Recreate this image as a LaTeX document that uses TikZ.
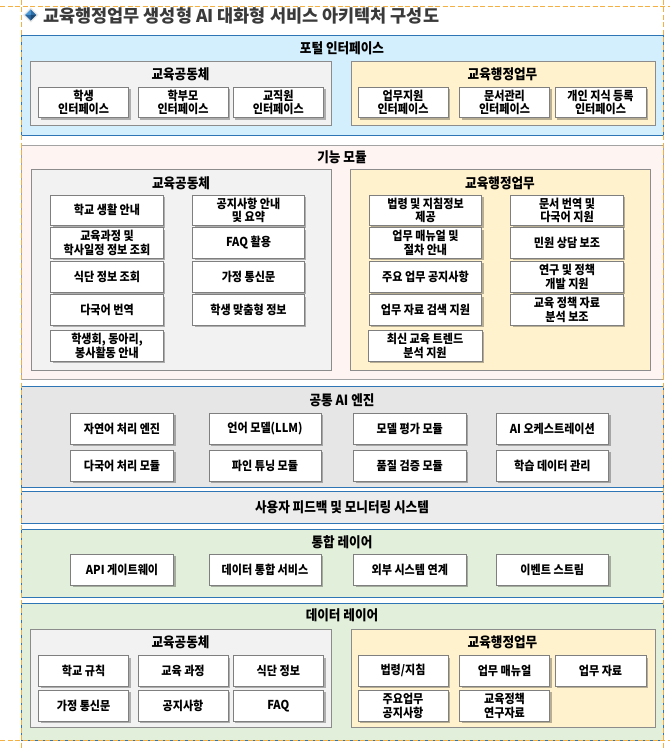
\documentclass[tikz,border=0pt]{standalone}
\usepackage{fontspec}
\newfontfamily\kr{Noto Sans CJK KR}[FakeStretch=0.9]
\newfontfamily\krwide{Noto Sans CJK KR}
\usetikzlibrary{shadows}
\definecolor{dashorange}{HTML}{F5B042}
\definecolor{lineblue}{HTML}{2E75B6}
\definecolor{portalfill}{HTML}{D3EEFC}
\definecolor{modfill}{HTML}{FEF4F2}
\definecolor{enginefill}{HTML}{E6E6E6}
\definecolor{monfill}{HTML}{ECECEC}
\definecolor{greenfill}{HTML}{E2EFDA}
\definecolor{grpgray}{HTML}{F2F2F2}
\definecolor{grpyellow}{HTML}{FFF2CC}
\definecolor{grpline}{HTML}{8C8C8C}
\definecolor{boxline}{HTML}{7F7F7F}
\definecolor{titlegray}{HTML}{3A3A3A}
\definecolor{gemA}{HTML}{4C9BD6}
\definecolor{gemB}{HTML}{2F6FA8}
\definecolor{gemC}{HTML}{2A66A0}
\definecolor{gemD}{HTML}{1B4A75}
\newcommand\bxfont{\kr\bfseries\fontsize{12.3}{13.5}\selectfont}
\newcommand\hdfont{\kr\bfseries\fontsize{14}{16}\selectfont}
\tikzset{
  layer/.style={draw=lineblue, line width=1.1pt, inner sep=0, anchor=north west, minimum width=642pt},
  grp/.style={draw=grpline, line width=0.8pt, inner sep=0, anchor=north west},
  sb/.style={draw=boxline, line width=0.7pt, fill=white, inner sep=0, align=center,
    font=\bxfont, minimum height=30.5pt,
    drop shadow={shadow xshift=2pt, shadow yshift=-2pt, fill=black, opacity=0.28}},
  hd/.style={font=\hdfont, inner sep=0},
  frame/.style={draw=dashorange, line width=1pt, dash pattern=on 5pt off 2.5pt}
}
\begin{document}
\begin{tikzpicture}[x=1pt,y=-1pt]
\useasboundingbox (0,0) rectangle (670,749);
\fill[white] (0,0) rectangle (670,749);

% heading with diamond bullet
\fill[gray!18] (30.8,7.5) -- (38.6,15) -- (30.8,22.5) -- (23,15) -- cycle;
\fill[gemA] (30.8,15) -- (30.8,9.4) -- (25.2,15) -- cycle;
\fill[gemB] (30.8,15) -- (30.8,9.4) -- (36.4,15) -- cycle;
\fill[gemC] (30.8,15) -- (30.8,20.6) -- (25.2,15) -- cycle;
\fill[gemD] (30.8,15) -- (30.8,20.6) -- (36.4,15) -- cycle;
\node[anchor=west, font=\krwide\bfseries\fontsize{17.5}{20}\selectfont, text=titlegray, inner sep=0] (title) at (43,16) {교육행정업무 생성형 AI 대화형 서비스 아키텍처 구성도};

% layers
\node[layer, fill=portalfill, minimum height=100.6pt] (L1) at (21,34.7) {};
\node[layer, fill=modfill, draw=grpline!80, line width=0.8pt, minimum height=234pt] (L2) at (21,145) {};
\node[layer, fill=enginefill, minimum height=101.6pt] (L3) at (21,385.7) {};
\node[layer, fill=monfill, minimum height=32.3pt] (L4) at (21,491) {};
\node[layer, fill=greenfill, minimum height=67.4pt] (L5) at (21,529.3) {};
\node[layer, fill=greenfill, minimum height=136.7pt] (L6) at (21,603.3) {};

\node[hd] (L1t) at (342,48) {포털 인터페이스};
\node[hd] (L2t) at (342,157) {기능 모듈};
\node[hd] (L3t) at (342,400) {공통 AI 엔진};
\node[hd] (L4t) at (342,507.5) {사용자 피드백 및 모니터링 시스템};
\node[hd] (L5t) at (342,542.7) {통합 레이어};
\node[hd] (L6t) at (342,615.7) {데이터 레이어};

% portal interface
\node[grp, fill=grpgray, minimum width=301pt, minimum height=64pt] (G1a) at (30,61) {};
\node[grp, fill=grpyellow, minimum width=304pt, minimum height=64pt] (G1b) at (350.6,61) {};
\node[hd] (G1at) at (180.5,74) {교육공동체};
\node[hd] (G1bt) at (502.5,74) {교육행정업무};
\node[sb, minimum width=90pt] (p1) at (83.6,102.5) {학생\\인터페이스};
\node[sb, minimum width=90pt] (p2) at (183,102.5) {학부모\\인터페이스};
\node[sb, minimum width=90.6pt] (p3) at (278.3,102.5) {교직원\\인터페이스};
\node[sb, minimum width=90pt] (p4) at (403,102.5) {업무지원\\인터페이스};
\node[sb, minimum width=90pt] (p5) at (504.5,102.5) {문서관리\\인터페이스};
\node[sb, minimum width=91pt] (p6) at (600.5,102.5) {개인 지식 등록\\인터페이스};

% function modules
\node[grp, fill=grpgray, minimum width=300.3pt, minimum height=201.3pt] (G2a) at (30.7,168.7) {};
\node[grp, fill=grpyellow, minimum width=300pt, minimum height=201.3pt] (G2b) at (350,168.7) {};
\node[hd] (G2at) at (181,183) {교육공동체};
\node[hd] (G2bt) at (500,183) {교육행정업무};
\node[sb, minimum width=112.6pt] (m1) at (107,210.3) {학교 생활 안내};
\node[sb, minimum width=112.6pt] (m2) at (107,243) {교육과정 및\\학사일정 정보 조회};
\node[sb, minimum width=112.6pt] (m3) at (107,276.7) {식단 정보 조회};
\node[sb, minimum width=112.6pt] (m4) at (107,310) {다국어 번역};
\node[sb, minimum width=112.6pt] (m5) at (107,345.7) {학생회, 동아리,\\봉사활동 안내};
\node[sb, minimum width=111.6pt] (m6) at (248.5,210.3) {공지사항 안내\\및 요약};
\node[sb, minimum width=111.6pt] (m7) at (248.5,243) {FAQ 활용};
\node[sb, minimum width=111.6pt] (m8) at (248.5,276.7) {가정 통신문};
\node[sb, minimum width=111.6pt] (m9) at (248.5,310) {학생 맞춤형 정보};
\node[sb, minimum width=112.4pt] (a1) at (425.5,210.3) {법령 및 지침정보\\제공};
\node[sb, minimum width=112.4pt] (a2) at (425.5,243) {업무 매뉴얼 및\\절차 안내};
\node[sb, minimum width=112.4pt] (a3) at (425.5,276.7) {주요 업무 공지사항};
\node[sb, minimum width=112.4pt] (a4) at (425.5,310) {업무 자료 검색 지원};
\node[sb, minimum width=114pt] (a5) at (425,345.7) {최신 교육 트렌드\\분석 지원};
\node[sb, minimum width=112.6pt] (a6) at (567,210.3) {문서 번역 및\\다국어 지원};
\node[sb, minimum width=112.6pt] (a7) at (567,243) {민원 상담 보조};
\node[sb, minimum width=112.6pt] (a8) at (567,276.7) {연구 및 정책\\개발 지원};
\node[sb, minimum width=112.6pt] (a9) at (567,310) {교육 정책 자료\\분석 보조};

% common AI engine
\node[sb, minimum width=103pt, minimum height=31pt] (e1) at (122,428.5) {자연어 처리 엔진};
\node[sb, minimum width=112pt, minimum height=31pt] (e2) at (265,428.5) {언어 모델(LLM)};
\node[sb, minimum width=112.4pt, minimum height=31pt] (e3) at (409.8,428.5) {모델 평가 모듈};
\node[sb, minimum width=112.6pt, minimum height=31pt] (e4) at (552.3,428.5) {AI 오케스트레이션};
\node[sb, minimum width=103pt, minimum height=31pt] (e5) at (122,465.5) {다국어 처리 모듈};
\node[sb, minimum width=112pt, minimum height=31pt] (e6) at (265,465.5) {파인 튜닝 모듈};
\node[sb, minimum width=112.4pt, minimum height=31pt] (e7) at (409.8,465.5) {품질 검증 모듈};
\node[sb, minimum width=112.6pt, minimum height=31pt] (e8) at (552.3,465.5) {학습 데이터 관리};

% integration layer
\node[sb, minimum width=103pt, minimum height=31pt] (i1) at (122,569.8) {API 게이트웨이};
\node[sb, minimum width=112pt, minimum height=31pt] (i2) at (265,569.8) {데이터 통합 서비스};
\node[sb, minimum width=112.4pt, minimum height=31pt] (i3) at (409.8,569.8) {외부 시스템 연계};
\node[sb, minimum width=112.6pt, minimum height=31pt] (i4) at (552.3,569.8) {이벤트 스트림};

% data layer
\node[grp, fill=grpgray, minimum width=301pt, minimum height=97.4pt] (G6a) at (30,629.3) {};
\node[grp, fill=grpyellow, minimum width=304pt, minimum height=97.4pt] (G6b) at (350.6,629.3) {};
\node[hd] (G6at) at (180.5,642.7) {교육공동체};
\node[hd] (G6bt) at (502.5,642.7) {교육행정업무};
\node[sb, minimum width=90pt] (d1) at (83.6,670.8) {학교 규칙};
\node[sb, minimum width=90pt] (d2) at (183,670.8) {교육 과정};
\node[sb, minimum width=90.6pt] (d3) at (278.3,670.8) {식단 정보};
\node[sb, minimum width=90pt] (d4) at (83.6,705.7) {가정 통신문};
\node[sb, minimum width=90pt] (d5) at (183,705.7) {공지사항};
\node[sb, minimum width=90.6pt] (d6) at (278.3,705.7) {FAQ};
\node[sb, minimum width=90pt] (d7) at (403,670.8) {법령/지침};
\node[sb, minimum width=90pt] (d8) at (504.5,670.8) {업무 매뉴얼};
\node[sb, minimum width=91pt] (d9) at (600.5,670.8) {업무 자료};
\node[sb, minimum width=90pt] (d10) at (403,705.7) {주요업무\\공지사항};
\node[sb, minimum width=90pt] (d11) at (504.5,705.7) {교육정책\\연구자료};

% dashed page frame
\draw[frame] (0,7) -- (670,7);
\draw[frame] (0,740.5) -- (670,740.5);
\draw[frame] (21.3,0) -- (21.3,749);
\draw[frame] (663,0) -- (663,749);
\end{tikzpicture}
\end{document}
